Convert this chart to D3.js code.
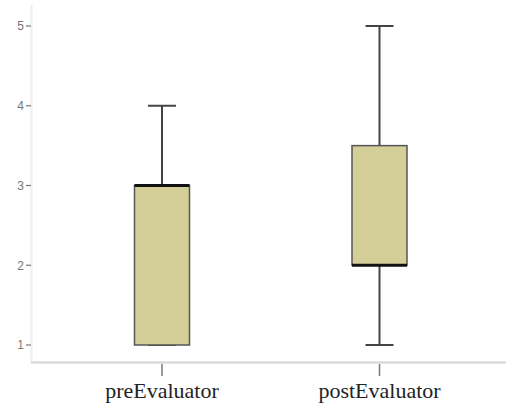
<!DOCTYPE html>
<html>
<head>
<meta charset="utf-8">
<script src="https://cdn.jsdelivr.net/npm/d3@7"></script>
<style>
  html, body { margin: 0; padding: 0; background: #fff; }
  svg { display: block; }
</style>
</head>
<body>
<script>
// Box plot summaries per group
const groups = ["preEvaluator", "postEvaluator"];
const mins    = [1, 1];
const q1s     = [1, 2];
const medians = [3, 2];
const q3s     = [3, 3.5];
const maxs    = [4, 5];
const yTicks  = [1, 2, 3, 4, 5];

const W = 506, H = 406;
const svg = d3.select("body").append("svg").attr("width", W).attr("height", H);

const y = d3.scaleLinear().domain([1, 5]).range([345, 26]);
const x = d3.scalePoint().domain(groups).range([162, 379.5]);
const cx = g => x(g);
const boxW = 55, capW = 28;

// faint vertical axis line
svg.append("line").attr("x1", 31.5).attr("x2", 31.5).attr("y1", 5).attr("y2", 362)
  .attr("stroke", "#eeeeee").attr("stroke-width", 2);

// y ticks and labels
const yAxis = svg.append("g");
yAxis.selectAll("line").data(yTicks).join("line")
  .attr("x1", 26).attr("x2", 31)
  .attr("y1", d => y(d)).attr("y2", d => y(d))
  .attr("stroke", "#777").attr("stroke-width", 1.2);
yAxis.selectAll("text").data(yTicks).join("text")
  .attr("x", 24).attr("y", d => y(d)).attr("dy", "0.36em")
  .attr("text-anchor", "end")
  .attr("font-family", "Liberation Sans, Arial, sans-serif")
  .attr("font-size", 12).attr("fill", "#777")
  .text(d => d);

// horizontal baseline
svg.append("line").attr("x1", 31).attr("x2", W).attr("y1", 362.5).attr("y2", 362.5)
  .attr("stroke", "#d4d4d4").attr("stroke-width", 2);

// x ticks and labels
const xAxis = svg.append("g");
xAxis.selectAll("line").data(groups).join("line")
  .attr("x1", d => cx(d)).attr("x2", d => cx(d))
  .attr("y1", 364).attr("y2", 376)
  .attr("stroke", "#777").attr("stroke-width", 1.5);
xAxis.selectAll("text").data(groups).join("text")
  .attr("x", d => cx(d)).attr("y", 398)
  .attr("text-anchor", "middle")
  .attr("font-family", "Liberation Serif, Times New Roman, serif")
  .attr("font-size", 22).attr("fill", "#222")
  .text(d => d);

// boxes
const boxes = svg.selectAll("g.box").data(groups).join("g").attr("class", "box");
boxes.each(function(g, i) {
  const sel = d3.select(this);
  const c = cx(g);
  // whiskers
  sel.append("line").attr("x1", c).attr("x2", c).attr("y1", y(maxs[i])).attr("y2", y(q3s[i]))
    .attr("stroke", "#444").attr("stroke-width", 2);
  sel.append("line").attr("x1", c).attr("x2", c).attr("y1", y(q1s[i])).attr("y2", y(mins[i]))
    .attr("stroke", "#444").attr("stroke-width", 2);
  sel.append("line").attr("x1", c - capW / 2).attr("x2", c + capW / 2)
    .attr("y1", y(maxs[i])).attr("y2", y(maxs[i]))
    .attr("stroke", "#444").attr("stroke-width", 2);
  sel.append("line").attr("x1", c - capW / 2).attr("x2", c + capW / 2)
    .attr("y1", y(mins[i])).attr("y2", y(mins[i]))
    .attr("stroke", "#444").attr("stroke-width", 2);
  // box
  sel.append("rect")
    .attr("x", c - boxW / 2).attr("width", boxW)
    .attr("y", y(q3s[i])).attr("height", y(q1s[i]) - y(q3s[i]))
    .attr("fill", "#d4cf98").attr("stroke", "#555").attr("stroke-width", 1.5);
  // median
  sel.append("line").attr("x1", c - boxW / 2).attr("x2", c + boxW / 2)
    .attr("y1", y(medians[i])).attr("y2", y(medians[i]))
    .attr("stroke", "#111").attr("stroke-width", 3);
});
</script>
</body>
</html>
